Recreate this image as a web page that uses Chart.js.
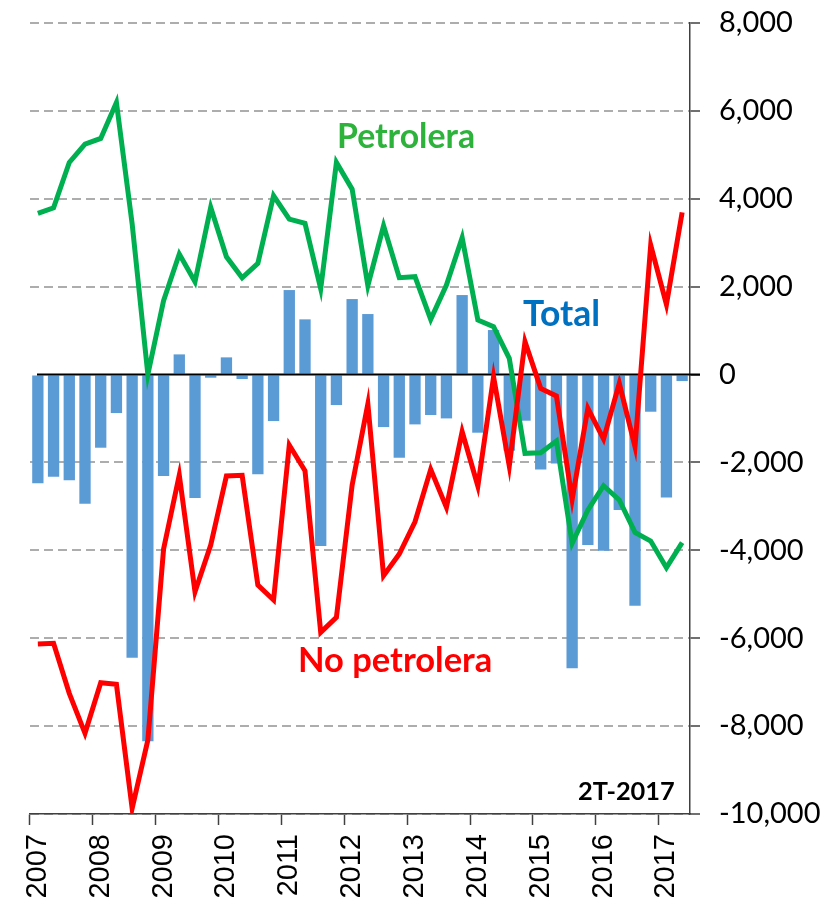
<!DOCTYPE html>
<html lang="es">
<head>
    <meta charset="UTF-8">
    <title>Petrolera / No petrolera / Total</title>
    <style>
        html, body { margin: 0; padding: 0; background: #fff; }
        canvas { display: block; }
    </style>
</head>
<body>
<canvas id="chart" width="827" height="901"></canvas>

<script src="https://cdn.jsdelivr.net/npm/chart.js@4.4.0/dist/chart.umd.min.js"></script>
<script>
// trimestres 2007T1 .. 2017T2
const years = [2007, 2008, 2009, 2010, 2011, 2012, 2013, 2014, 2015, 2016, 2017];
const quarters = years.flatMap(y => ["1T", "2T", "3T", "4T"].map(q => q + "-" + y)).slice(0, 42);

const total = [-2476, -2325, -2408, -2940, -1665, -876, -6443, -8346, -2309, 459,
    -2810, -72, 391, -102, -2271, -1058, 1923, 1256, -3902, -694,
    1718, 1377, -1195, -1893, -1134, -921, -998, 1809, -1323, 1013,
    -1733, -1050, -2158, -2022, -6685, -3879, -4008, -3083, -5260, -846,
    -2795, -148];

const petrolera = [3670, 3795, 4828, 5245, 5374, 6193, 3430, 0, 1680, 2742,
    2112, 3804, 2681, 2203, 2530, 4069, 3538, 3440, 1953, 4828,
    4220, 2021, 3386, 2203, 2226, 1255, 2036, 3113, 1240, 1088,
    368, -1793, -1780, -1513, -3841, -3083, -2530, -2855, -3591, -3788,
    -4395, -3826];

const noPetrolera = [-6132, -6117, -7254, -8164, -7012, -7050, -9871, -8316, -3971, -2287,
    -4942, -3879, -2309, -2294, -4790, -5131, -1604, -2188, -5866, -5525,
    -2514, -671, -4578, -4084, -3349, -2158, -3022, -1301, -2537, -50,
    -2082, 747, -315, -489, -2840, -770, -1468, -200, -1642, 2946,
    1596, 3690];

const yTicks = { min: -10000, max: 8000, step: 2000 };

// textos sobre el grafico: [texto, x, y base, ancho, color, tamano base]
const notes = [
    ["Petrolera", 337, 148, 138, "#2DB23C", 36],
    ["Total", 523, 326, 77, "#0070C0", 36],
    ["No petrolera", 298, 672, 194, "#FF0000", 36],
    ["2T-2017", 578, 800, 97, "#000000", 29]
];

const axisColor = "#404040";

// linea del cero, encima de las barras
const zeroLine = {
    id: "zeroLine",
    afterDatasetDraw(chart, args) {
        if (args.meta.type !== "bar") return;
        const { ctx, chartArea } = chart;
        const y = chart.scales.y.getPixelForValue(0);
        ctx.save();
        ctx.strokeStyle = "#000";
        ctx.lineWidth = 2;
        ctx.beginPath();
        ctx.moveTo(chartArea.left + 7, y);
        ctx.lineTo(chartArea.right + 10, y);
        ctx.stroke();
        ctx.restore();
    }
};

const labels = {
    id: "labels",
    afterDraw(chart) {
        const ctx = chart.ctx;
        ctx.save();
        ctx.textAlign = "left";
        ctx.textBaseline = "alphabetic";
        notes.forEach(([text, x, y, width, color, size]) => {
            ctx.font = "bold " + size + "px Lato";
            const fit = size * width / ctx.measureText(text).width;
            ctx.font = "bold " + fit.toFixed(1) + "px Lato";
            ctx.fillStyle = color;
            ctx.fillText(text, x, y);
        });
        ctx.restore();
    }
};

new Chart(document.getElementById("chart"), {
    type: "bar",
    data: {
        labels: quarters,
        datasets: [
            {
                label: "Total",
                data: total,
                backgroundColor: "#5B9BD5",
                barPercentage: 0.72,
                categoryPercentage: 1,
                order: 3
            },
            {
                type: "line",
                label: "Petrolera",
                data: petrolera,
                borderColor: "#00B050",
                borderWidth: 5,
                pointRadius: 0,
                tension: 0,
                order: 2
            },
            {
                type: "line",
                label: "No petrolera",
                data: noPetrolera,
                borderColor: "#FF0000",
                borderWidth: 5,
                pointRadius: 0,
                tension: 0,
                order: 1
            }
        ]
    },
    options: {
        responsive: false,
        animation: false,
        devicePixelRatio: 1,
        layout: { padding: { left: 30, top: 23, right: 0, bottom: 0 } },
        plugins: {
            legend: { display: false },
            tooltip: { enabled: false }
        },
        scales: {
            x: {
                offset: true,
                grid: {
                    offset: true,
                    drawOnChartArea: false,
                    tickLength: 11,
                    tickWidth: 1.5,
                    tickColor: c => c.index % 4 === 0 ? axisColor : "rgba(0,0,0,0)"
                },
                border: { color: axisColor, width: 1.5 },
                ticks: {
                    autoSkip: false,
                    minRotation: 90,
                    maxRotation: 90,
                    padding: 9,
                    color: "#000",
                    font: { family: "Liberation Sans", size: 29 },
                    callback: (v, i) => i % 4 === 0 ? quarters[i].slice(3) : ""
                },
                afterFit: s => { s.height = 87; }
            },
            y: {
                position: "right",
                min: yTicks.min,
                max: yTicks.max,
                ticks: {
                    stepSize: yTicks.step,
                    padding: 19,
                    color: "#000",
                    font: { family: "Lato", size: 29 },
                    callback: v => v.toLocaleString("en-US")
                },
                grid: {
                    color: c => c.tick && c.tick.value === 0 ? "rgba(0,0,0,0)" : "#ADADAD",
                    lineWidth: 2,
                    tickLength: 10,
                    tickColor: axisColor,
                    tickWidth: 1.5
                },
                border: { color: axisColor, width: 1.5, dash: [9, 5] },
                afterFit: s => {
                    s.width = 137;
                    // the tick padding would otherwise push the plot area down
                    s.paddingTop = 0;
                    s.paddingBottom = 0;
                }
            }
        }
    },
    plugins: [zeroLine, labels]
});
</script>
</body>
</html>
